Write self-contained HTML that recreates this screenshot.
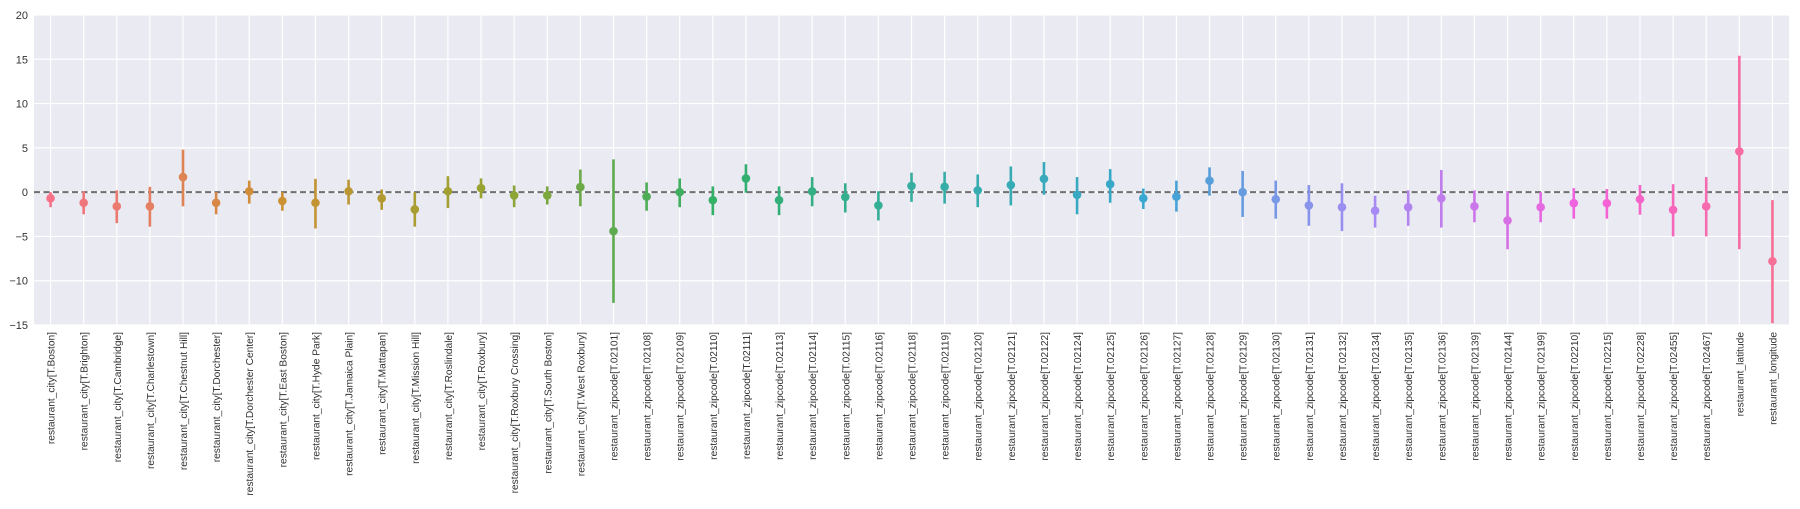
<!DOCTYPE html>
<html><head><meta charset="utf-8"><style>
html,body{margin:0;padding:0;background:#fff;}
svg text{font-family:"Liberation Sans",Arial,sans-serif;}
</style></head><body>
<svg id="chart" width="1800" height="504" xmlns="http://www.w3.org/2000/svg"></svg>
<script>
const categories = ["restaurant_city[T.Boston]","restaurant_city[T.Brighton]","restaurant_city[T.Cambridge]","restaurant_city[T.Charlestown]","restaurant_city[T.Chestnut Hill]","restaurant_city[T.Dorchester]","restaurant_city[T.Dorchester Center]","restaurant_city[T.East Boston]","restaurant_city[T.Hyde Park]","restaurant_city[T.Jamaica Plain]","restaurant_city[T.Mattapan]","restaurant_city[T.Mission Hill]","restaurant_city[T.Roslindale]","restaurant_city[T.Roxbury]","restaurant_city[T.Roxbury Crossing]","restaurant_city[T.South Boston]","restaurant_city[T.West Roxbury]","restaurant_zipcode[T.02101]","restaurant_zipcode[T.02108]","restaurant_zipcode[T.02109]","restaurant_zipcode[T.02110]","restaurant_zipcode[T.02111]","restaurant_zipcode[T.02113]","restaurant_zipcode[T.02114]","restaurant_zipcode[T.02115]","restaurant_zipcode[T.02116]","restaurant_zipcode[T.02118]","restaurant_zipcode[T.02119]","restaurant_zipcode[T.02120]","restaurant_zipcode[T.02121]","restaurant_zipcode[T.02122]","restaurant_zipcode[T.02124]","restaurant_zipcode[T.02125]","restaurant_zipcode[T.02126]","restaurant_zipcode[T.02127]","restaurant_zipcode[T.02128]","restaurant_zipcode[T.02129]","restaurant_zipcode[T.02130]","restaurant_zipcode[T.02131]","restaurant_zipcode[T.02132]","restaurant_zipcode[T.02134]","restaurant_zipcode[T.02135]","restaurant_zipcode[T.02136]","restaurant_zipcode[T.02139]","restaurant_zipcode[T.02144]","restaurant_zipcode[T.02199]","restaurant_zipcode[T.02210]","restaurant_zipcode[T.02215]","restaurant_zipcode[T.02228]","restaurant_zipcode[T.02455]","restaurant_zipcode[T.02467]","restaurant_latitude","restaurant_longitude"];
const means = [-0.7,-1.2,-1.6,-1.6,1.7,-1.2,0.1,-1.0,-1.2,0.1,-0.7,-1.95,0.1,0.45,-0.37,-0.37,0.57,-4.4,-0.5,0,-0.9,1.55,-0.9,0.08,-0.55,-1.5,0.7,0.6,0.2,0.8,1.5,-0.3,0.9,-0.7,-0.5,1.3,0,-0.8,-1.5,-1.7,-2.1,-1.7,-0.7,-1.6,-3.2,-1.7,-1.25,-1.25,-0.8,-2.0,-1.6,4.6,-7.8];
const lows = [-1.7,-2.5,-3.5,-3.9,-1.6,-2.5,-1.3,-2.1,-4.1,-1.4,-2.0,-3.9,-1.8,-0.7,-1.7,-1.4,-1.6,-12.5,-2.1,-1.7,-2.6,-0.07,-2.6,-1.6,-2.3,-3.2,-1.1,-1.3,-1.7,-1.5,-0.3,-2.5,-1.2,-1.9,-2.2,-0.4,-2.8,-3.0,-3.8,-4.4,-4.0,-3.8,-4.0,-3.4,-6.45,-3.4,-3.0,-3.0,-2.55,-5.0,-5.0,-6.45,-14.8];
const highs = [0,0.1,0.2,0.6,4.8,0,1.3,0,1.5,1.4,0.3,0,1.8,1.55,0.75,0.65,2.55,3.7,1.1,1.55,0.65,3.15,0.65,1.7,1.0,0.1,2.2,2.3,2.0,2.9,3.4,1.7,2.6,0.4,1.3,2.8,2.4,1.3,0.8,1.0,-0.4,0.2,2.5,0.2,0.1,0,0.45,0.35,0.8,0.9,1.7,15.4,-0.9];
const yTicks = [-15,-10,-5,0,5,10,15,20];

const NS="http://www.w3.org/2000/svg";
const svg=document.getElementById('chart');
const L=34,R=1789,T=15,B=325,yMin=-15,yMax=20;
const n=categories.length, step=(R-L)/n;
const xS=i=>L+step*(i+0.5);
const yS=v=>B-(v-yMin)/(yMax-yMin)*(B-T);
function mk(tag,attrs){const e=document.createElementNS(NS,tag);for(const k in attrs)e.setAttribute(k,attrs[k]);svg.appendChild(e);return e;}
const anchors=["#f77189","#ce9032","#97a431","#32b166","#36ada4","#39a7d0","#a48cf4","#f561dd","#f77189"];
function hx(c){return [1,3,5].map(i=>parseInt(c.substr(i,2),16));}
function col(i){const t=i/n*8;const k=Math.floor(t),f=t-k;const a=hx(anchors[k]),b=hx(anchors[k+1]);const c=a.map((v,j)=>Math.round(v+(b[j]-v)*f));return `rgb(${c[0]},${c[1]},${c[2]})`;}

let bg=mk('rect',{x:L,y:T,width:R-L,height:B-T,fill:'#eaeaf2'});


yTicks.forEach(v=>{
  const g=mk('line',{x1:L,x2:R,y1:yS(v),y2:yS(v),stroke:'#fff','stroke-width':1.2});
  
  
  const t=mk('text',{x:L-6,y:yS(v)+4,'text-anchor':'end','font-size':11,fill:'#333'});
  t.textContent=v<0?'\u2212'+(-v):String(v);
  
  
});
categories.forEach((c,i)=>{
  const g=mk('line',{x1:xS(i),x2:xS(i),y1:T,y2:B,stroke:'#fff','stroke-width':1.2});
  
  
});
let z=mk('line',{x1:L,x2:R,y1:yS(0),y2:yS(0),stroke:'#707070','stroke-width':2,'stroke-dasharray':'6,3.5'});


categories.forEach((c,i)=>{
  const cc=col(i);
  const e=mk('line',{x1:xS(i),x2:xS(i),y1:yS(lows[i]),y2:yS(highs[i]),stroke:cc,'stroke-width':2.6});
  
  
  const p=mk('circle',{cx:xS(i),cy:yS(means[i]),r:4.3,fill:cc});
  
  
  const x=xS(i)+4,y=B+7;
  const t=mk('text',{x:x,y:y,transform:`rotate(-90 ${x} ${y})`,'text-anchor':'end','font-size':10.2,fill:'#333'});
  t.textContent=c;
  
  
});
</script>
</body></html>
